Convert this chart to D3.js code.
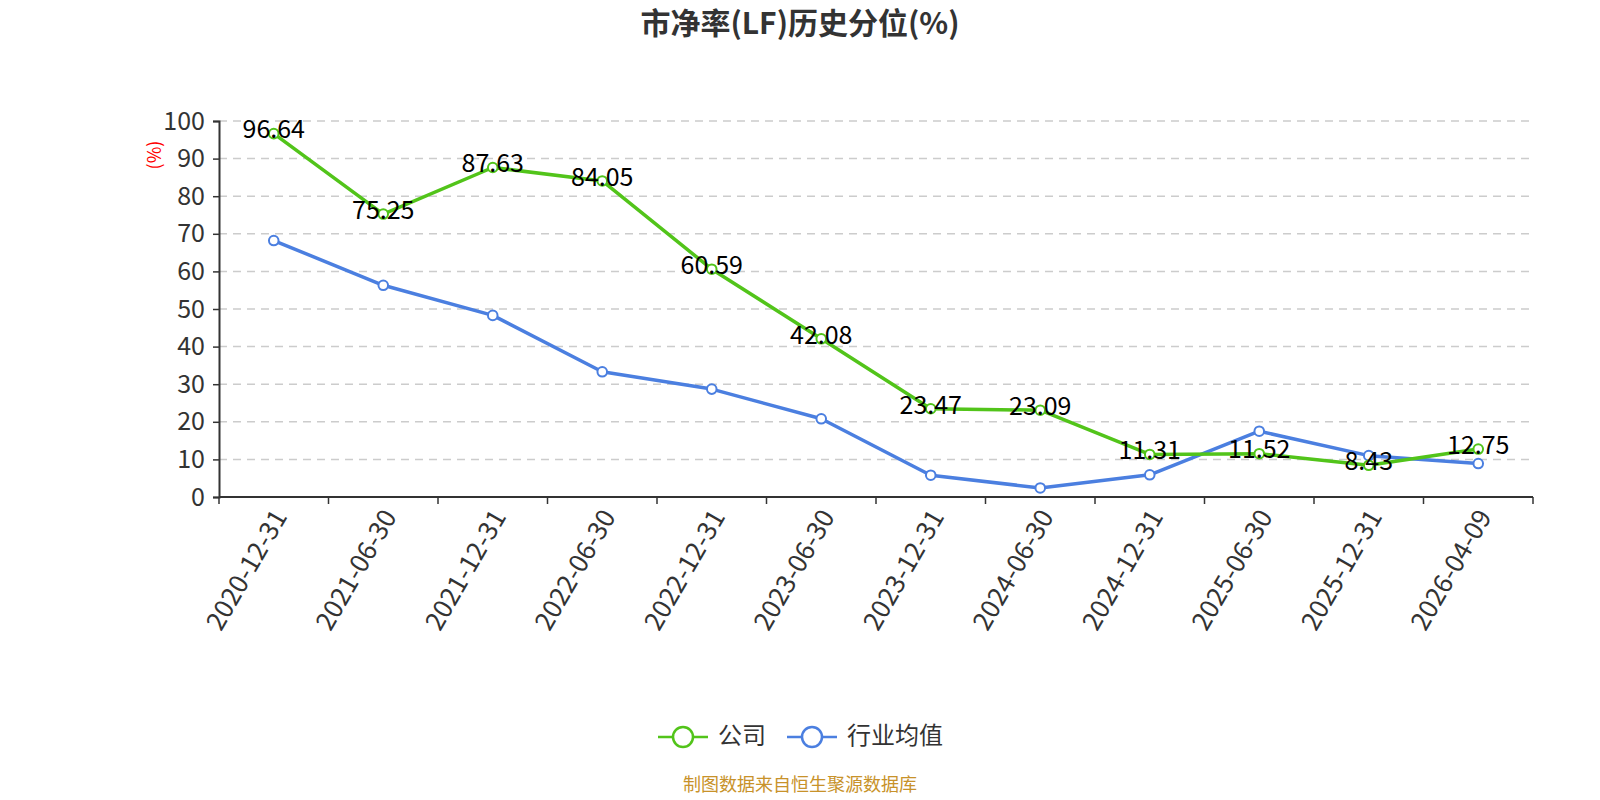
<!DOCTYPE html>
<html>
<head>
<meta charset="utf-8">
<script src="https://cdn.jsdelivr.net/npm/d3@7"></script>
<style>
  body { margin: 0; background: #fff; }
  svg { font-family: "Noto Sans CJK SC", "Noto Sans", sans-serif; }
</style>
</head>
<body>
<svg id="chart" width="1600" height="800"></svg>
<script>
// data
const categories = ["2020-12-31", "2021-06-30", "2021-12-31", "2022-06-30", "2022-12-31", "2023-06-30",
    "2023-12-31", "2024-06-30", "2024-12-31", "2025-06-30", "2025-12-31", "2026-04-09"];
const companyValues = [96.64, 75.25, 87.63, 84.05, 60.59, 42.08, 23.47, 23.09, 11.31, 11.52, 8.43, 12.75];
const industryValues = [68.2, 56.3, 48.3, 33.3, 28.7, 20.8, 5.8, 2.4, 5.9, 17.5, 11.0, 8.9];
const yTicks = [0, 10, 20, 30, 40, 50, 60, 70, 80, 90, 100];
const seriesNames = ["公司", "行业均值"];

const green = "#52c41a";
const blue = "#4b7fe0";

const margin = { left: 219, right: 67, top: 121, bottom: 303 };
const width = 1600, height = 800;

const svg = d3.select("#chart");

const x = d3.scaleBand().domain(categories).range([margin.left, width - margin.right]);
const y = d3.scaleLinear().domain([0, 100]).range([height - margin.bottom, margin.top]);

//  title
svg.append("text").attr("x", 800).attr("y", 34)
    .attr("text-anchor", "middle")
    .attr("font-size", 30).attr("font-weight", "bold").attr("fill", "#333")
    .text("市净率(LF)历史分位(%)");

//  dashed grid lines
svg.append("g").selectAll("line")
    .data(yTicks.filter(d => d > 0))
    .join("line")
    .attr("x1", margin.left).attr("x2", width - margin.right)
    .attr("y1", d => y(d)).attr("y2", d => y(d))
    .attr("stroke", "#ccc").attr("stroke-width", 1.5).attr("stroke-dasharray", "8,6");

//  y axis
const yAxis = svg.append("g").attr("transform", `translate(${margin.left},0)`)
    .call(d3.axisLeft(y).tickValues(yTicks).tickSize(6).tickPadding(8));
yAxis.select(".domain").attr("stroke", "#333").attr("stroke-width", 2);
yAxis.selectAll(".tick line").attr("stroke", "#333").attr("stroke-width", 1.5);
yAxis.selectAll(".tick text").attr("font-size", 25).attr("fill", "#333")
    .attr("font-family", "\"Noto Sans CJK SC\", sans-serif");

//  unit label
svg.append("text")
    .attr("transform", `translate(161,155) rotate(-90)`)
    .attr("text-anchor", "middle")
    .attr("font-size", 18).attr("fill", "red")
    .text("(%)");

//  x axis, ticks on band edges
const xAxisG = svg.append("g").attr("transform", `translate(0,${y(0)})`);
xAxisG.append("line")
    .attr("x1", margin.left).attr("x2", width - margin.right)
    .attr("y1", 0).attr("y2", 0)
    .attr("stroke", "#333").attr("stroke-width", 2);
const edges = categories.map(c => x(c)).concat([x(categories[categories.length - 1]) + x.bandwidth()]);
xAxisG.selectAll("line.tk").data(edges).join("line").attr("class", "tk")
    .attr("x1", d => d).attr("x2", d => d).attr("y1", 0).attr("y2", 7)
    .attr("stroke", "#333").attr("stroke-width", 1.5);
xAxisG.selectAll("text").data(categories).join("text")
    .attr("transform", d => `translate(${x(d) + x.bandwidth() / 2 + 8},16) rotate(-60)`)
    .attr("text-anchor", "end")
    .attr("dominant-baseline", "middle")
    .attr("font-size", 26).attr("fill", "#333")
    .text(d => d);

//  lines and markers
const line = d3.line()
    .x((d, i) => x(categories[i]) + x.bandwidth() / 2)
    .y(d => y(d));

function drawSeries(values, color) {
    svg.append("path").datum(values)
        .attr("d", line)
        .attr("fill", "none").attr("stroke", color).attr("stroke-width", 3.5)
        .attr("stroke-linejoin", "round");
    svg.append("g").selectAll("circle").data(values).join("circle")
        .attr("cx", (d, i) => x(categories[i]) + x.bandwidth() / 2)
        .attr("cy", d => y(d))
        .attr("r", 4.8)
        .attr("fill", "#fff").attr("stroke", color).attr("stroke-width", 2);
}
drawSeries(industryValues, blue);
drawSeries(companyValues, green);

//  value labels for the company series
svg.append("g").selectAll("text").data(companyValues).join("text")
    .attr("x", (d, i) => x(categories[i]) + x.bandwidth() / 2)
    .attr("y", d => y(d) - 2)
    .attr("text-anchor", "middle")
    .attr("dominant-baseline", "middle")
    .attr("font-size", 25).attr("fill", "#000")
    .text(d => d.toFixed(2));

//  legend
const legend = svg.append("g");
const legendItems = [
    { name: seriesNames[0], color: green, x: 658 },
    { name: seriesNames[1], color: blue, x: 787 }
];
legendItems.forEach(it => {
    const g = legend.append("g").attr("transform", `translate(${it.x},737)`);
    g.append("line").attr("x1", 0).attr("x2", 50).attr("y1", 0).attr("y2", 0)
        .attr("stroke", it.color).attr("stroke-width", 2.5);
    g.append("circle").attr("cx", 25).attr("cy", 0).attr("r", 10)
        .attr("fill", "#fff").attr("stroke", it.color).attr("stroke-width", 2.5);
    g.append("text").attr("x", 60).attr("y", 0)
        .attr("dominant-baseline", "middle")
        .attr("font-size", 24).attr("fill", "#333")
        .text(it.name);
});

//  source note
svg.append("text").attr("x", 800).attr("y", 791)
    .attr("text-anchor", "middle")
    .attr("font-size", 18).attr("fill", "#c8922a")
    .text("制图数据来自恒生聚源数据库");
</script>
</body>
</html>
